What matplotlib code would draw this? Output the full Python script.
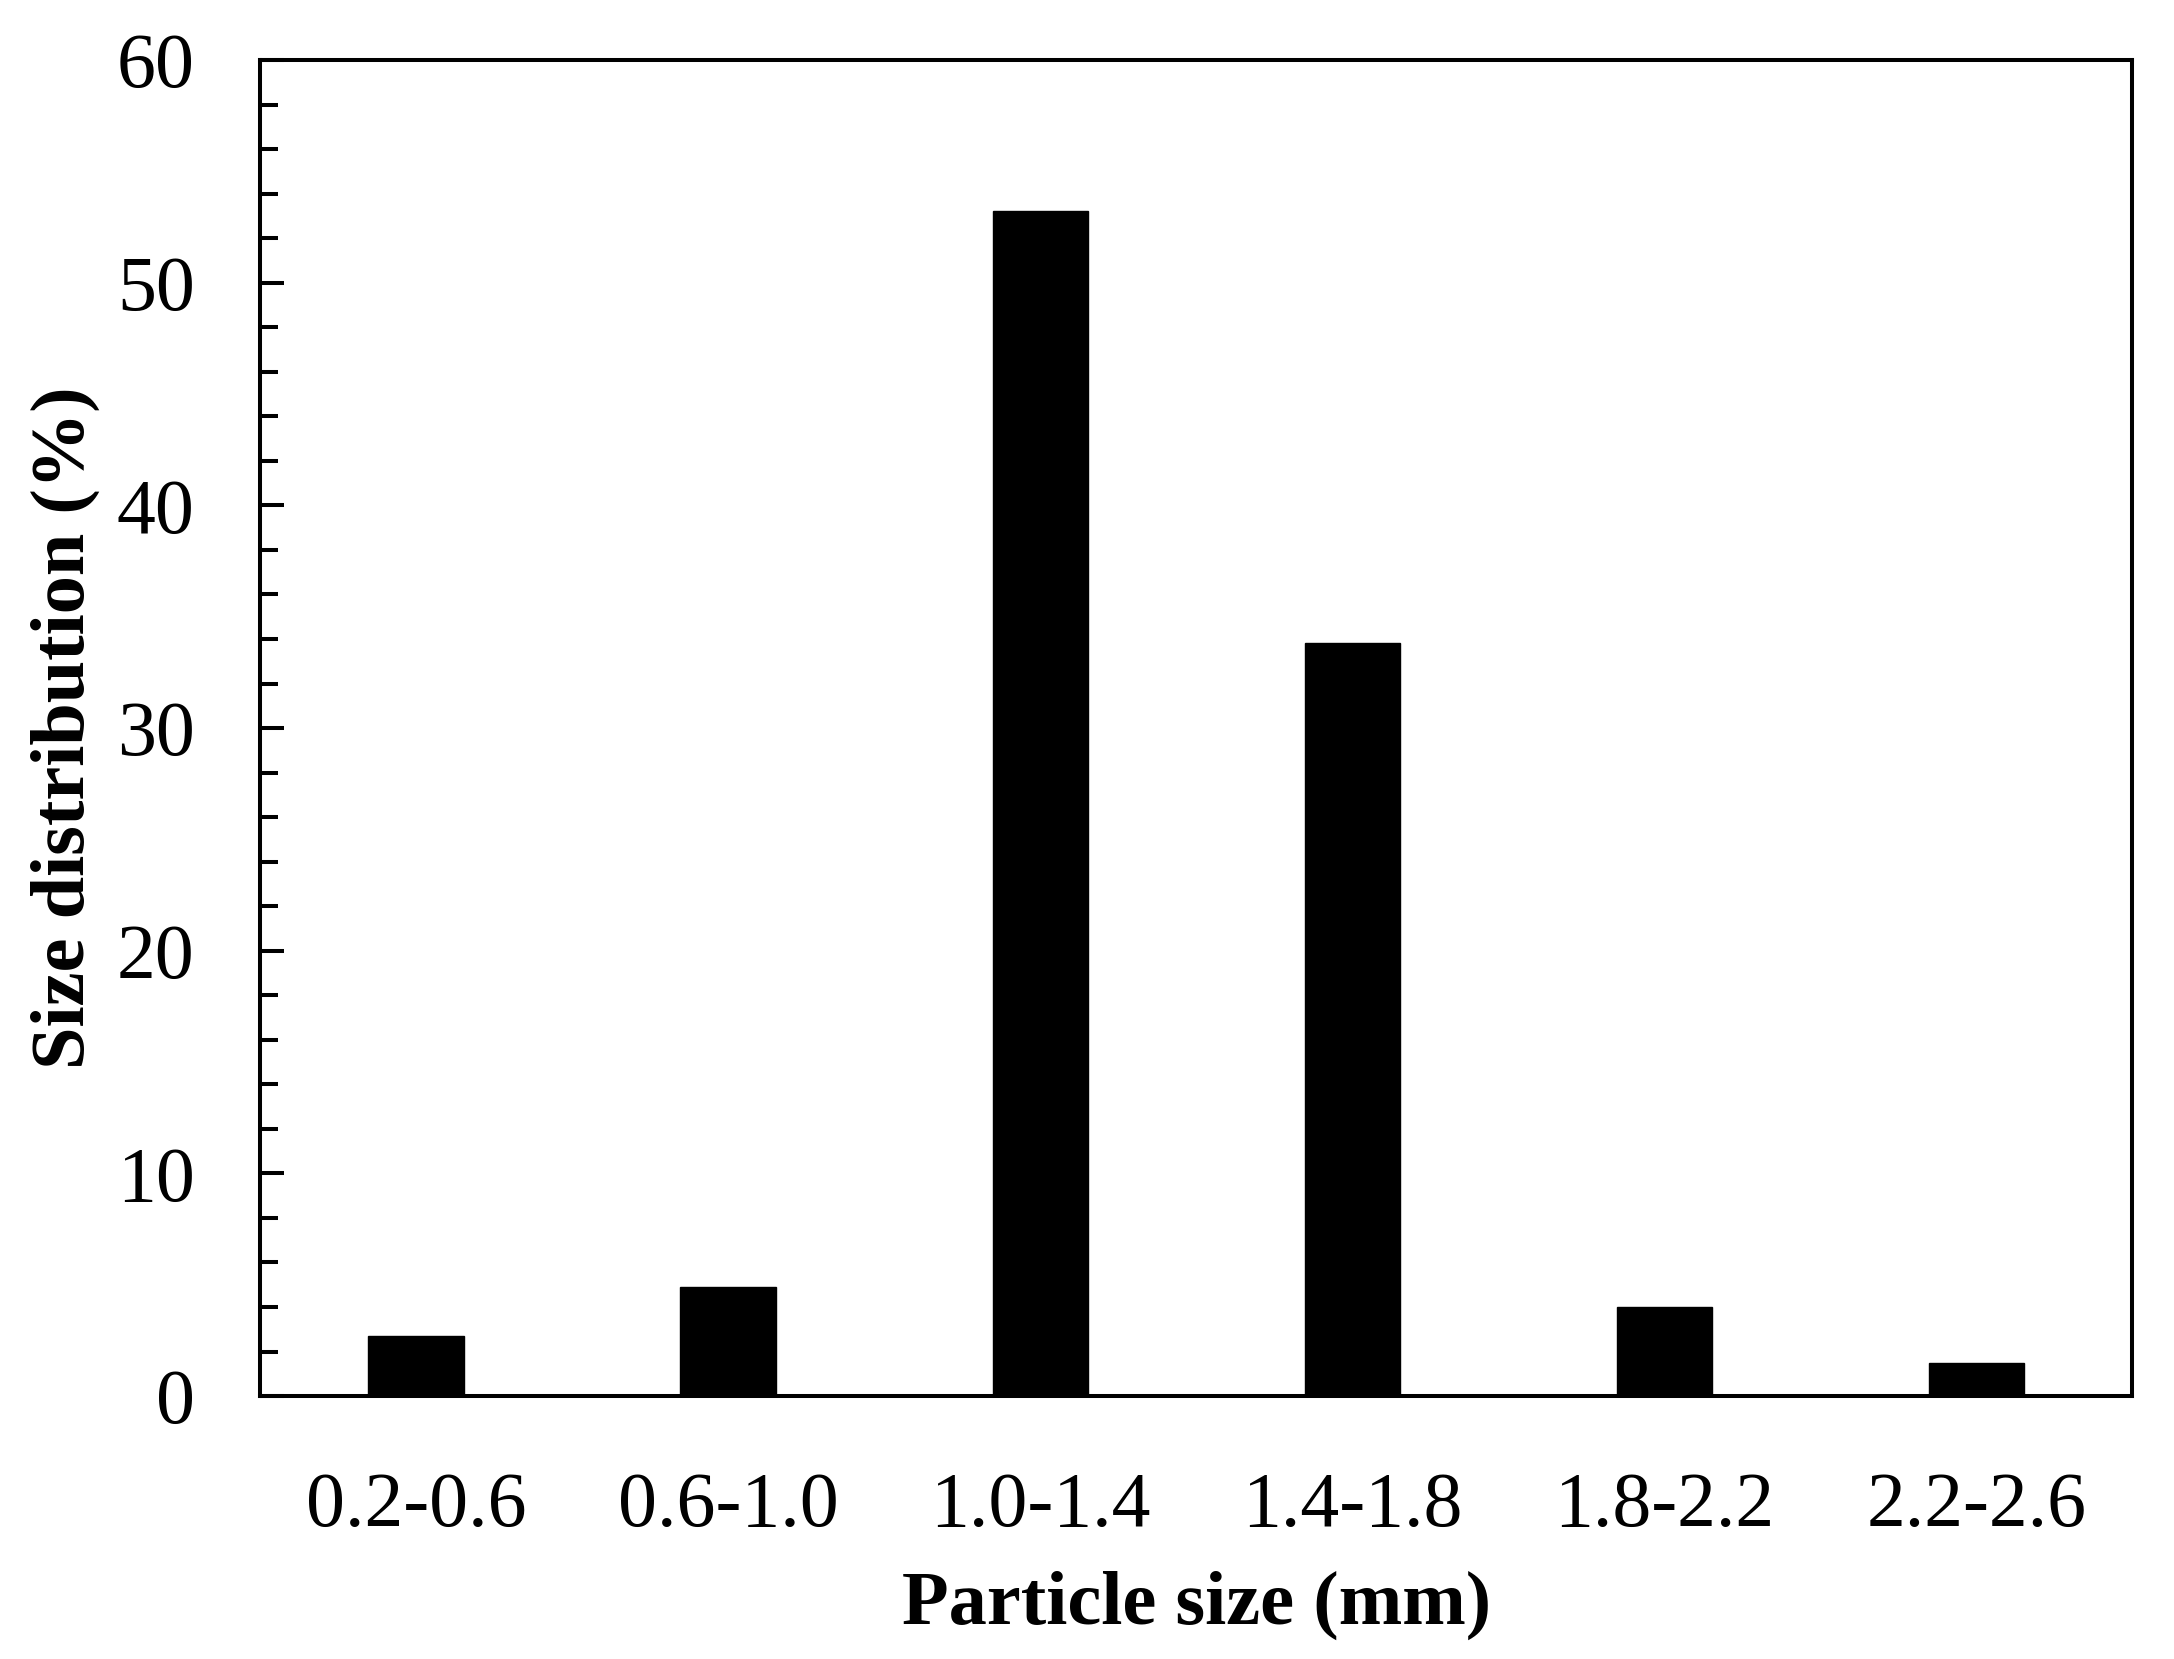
import numpy as np
import matplotlib.pyplot as plt
from matplotlib.ticker import MultipleLocator

# Data
size_ranges = ["0.2-0.6", "0.6-1.0", "1.0-1.4", "1.4-1.8", "1.8-2.2", "2.2-2.6"]
distribution = [2.7, 4.9, 53.2, 33.8, 4.0, 1.5]

plt.rcParams['font.family'] = ['Liberation Serif', 'DejaVu Serif']

fig = plt.figure(figsize=(21.74, 16.59), dpi=100)
ax = fig.add_axes([0.1196, 0.1585, 0.8612, 0.8053])

x = np.arange(len(size_ranges))
ax.bar(x, distribution, width=0.305, color='black', edgecolor='black')

ax.set_xlim(-0.5, len(size_ranges) - 0.5)
ax.set_ylim(0, 60)
ax.set_xticks(x)
ax.set_xticklabels(size_ranges)
ax.yaxis.set_major_locator(MultipleLocator(10))
ax.yaxis.set_minor_locator(MultipleLocator(2))

ax.tick_params(axis='y', which='major', direction='in', length=17, width=2.9,
               labelsize=56, pad=47)
ax.tick_params(axis='y', which='minor', direction='in', length=13, width=2.9)
ax.tick_params(axis='x', length=0, labelsize=56, pad=54)

for s in ax.spines.values():
    s.set_linewidth(2.9)

ax.set_xlabel("Particle size (mm)", fontsize=55, fontweight='bold', labelpad=20)
ax.set_ylabel("Size distribution (%)", fontsize=55, fontweight='bold', labelpad=12)

fig.savefig("out.png", dpi=100)
